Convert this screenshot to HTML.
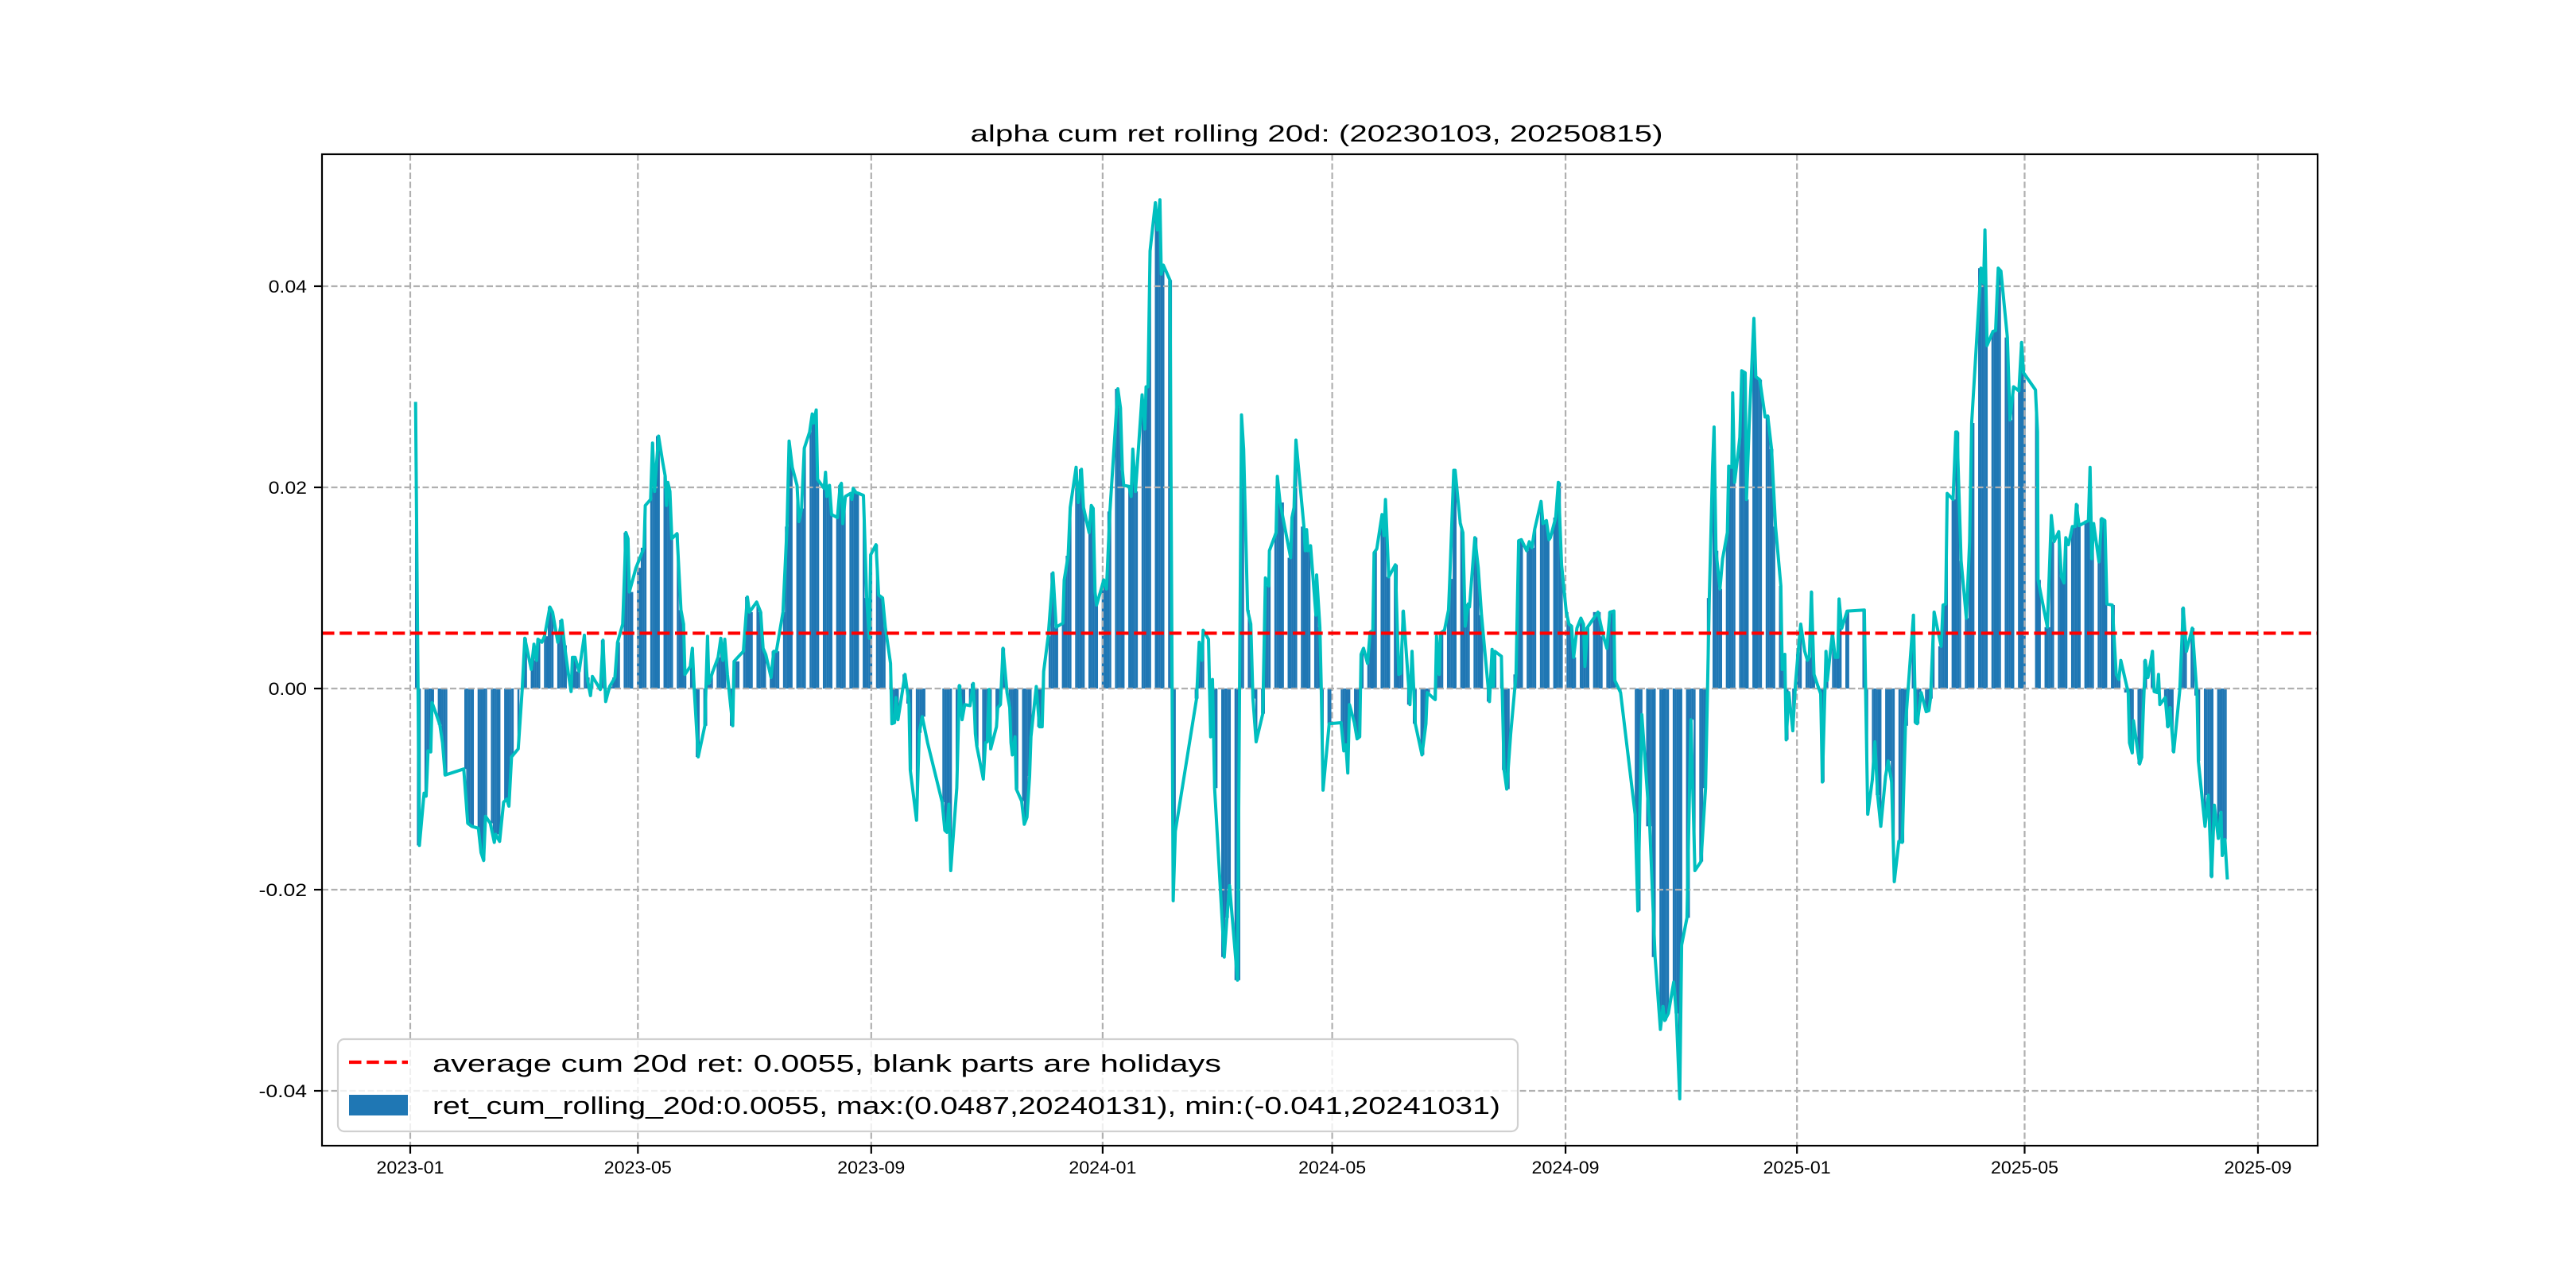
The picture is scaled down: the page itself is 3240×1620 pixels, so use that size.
<!DOCTYPE html>
<html><head><meta charset="utf-8"><title>alpha cum ret rolling 20d</title>
<style>html,body{margin:0;padding:0;background:#fff}svg{display:block}text{font-family:"WenQuanYi Zen Hei","Liberation Sans","Noto Sans CJK SC",sans-serif}</style>
</head><body>
<svg id="chart" width="3240" height="1620" viewBox="0 0 3240 1620" xmlns="http://www.w3.org/2000/svg">
<rect x="0" y="0" width="3240" height="1620" fill="#fff"/>
<text x="1656" y="178" font-size="30" text-anchor="middle" textLength="871" lengthAdjust="spacingAndGlyphs">alpha cum ret rolling 20d: (20230103, 20250815)</text>
<g id="bars"></g>
<g id="grid"></g>
<g id="lineg"></g>
<g id="avg"></g>
<rect x="405" y="194" width="2510" height="1247" fill="none" stroke="#000" stroke-width="2.2"/>
<g id="ticks"></g>
<g>
<rect x="425" y="1307" width="1484" height="116" rx="8" fill="#fff" fill-opacity="0.8" stroke="#d0d0d0" stroke-width="2.2"/>
<line x1="439" y1="1336" x2="513" y2="1336" stroke="#ff0000" stroke-width="4.2" stroke-dasharray="15.5,6.7"/>
<text x="544" y="1348" font-size="31" textLength="992" lengthAdjust="spacingAndGlyphs">average cum 20d ret: 0.0055, blank parts are holidays</text>
<rect x="439" y="1377" width="74" height="26" fill="#1f77b4"/>
<text x="544" y="1401" font-size="31" textLength="1343" lengthAdjust="spacingAndGlyphs">ret_cum_rolling_20d:0.0055, max:(0.0487,20240131), min:(-0.041,20241031)</text>
</g>
</svg>
<script>
// days since 2023-01-01 and cumulative 20d return in per-mille
const lineDays=[2.8,4.8,7.3,8.4,9.4,10.8,11.5,13.6,15.6,17.0,18.4,28.2,30.3,32.4,35.9,37.3,38.7,39.7,42.2,44.3,45.0,47.1,49.2,50.9,52.0,53.4,56.9,59.0,60.4,61.8,63.8,65.2,66.6,67.3,69.4,70.8,73.6,75.0,77.8,79.9,81.3,83.4,84.8,85.5,86.9,89.0,91.8,93.2,95.0,96.0,100.2,101.6,103.0,105.1,107.9,109.3,112.0,113.7,
114.8,115.5,119.0,123.2,123.9,126.7,127.7,128.8,130.9,133.0,134.4,135.1,135.8,136.9,137.9,140.6,142.7,144.1,144.8,147.6,148.7,149.7,151.8,155.3,156.7,157.4,159.5,162.3,163.7,164.8,165.8,167.2,170.0,170.7,175.6,177.7,178.8,182.6,184.7,186.0,187.4,190.2,191.6,193.0,196.5,198.6,199.7,201.4,203.9,204.9,206.3,207.7,210.5,211.9,212.6,214.0,214.7,218.2,218.9,219.6,221.0,222.1,225.2,226.6,227.3,228.0,229.4,232.1,232.8,233.5,234.9,
236.4,238.9,240.6,242.0,242.7,245.5,246.9,249.0,250.4,253.2,253.9,255.3,256.0,257.1,260.8,262.9,263.6,266.9,268.3,269.9,272.7,280.4,281.8,282.9,283.9,284.9,288.1,289.5,290.9,292.3,295.1,296.8,297.9,298.6,302.1,303.2,304.2,305.1,306.0,309.0,309.7,311.1,312.5,314.6,316.0,316.7,317.4,318.8,319.5,322.3,323.7,325.1,326.5,327.2,330.0,331.7,333.1,333.9,336.3,338.8,340.5,344.0,344.7,346.8,347.9,351.0,352.1,353.8,354.9,
357.9,359.0,360.0,361.0,361.8,365.6,367.0,368.8,373.0,374.4,375.4,376.1,378.9,380.0,380.9,382.3,385.8,387.2,387.9,388.9,390.0,392.8,393.9,395.2,395.9,397.0,400.5,402.2,403.3,414.5,415.9,417.3,418.0,420.8,421.9,422.9,424.0,429.1,430.5,431.9,436.1,438.2,439.3,441.4,443.1,444.2,445.9,449.4,450.8,452.6,452.9,456.4,457.1,458.5,464.1,464.8,465.9,466.9,471.1,471.8,472.5,473.2,474.6,477.4,477.8,
479.5,480.2,481.2,484.4,490.7,492.1,493.2,494.2,495.1,497.7,499.1,500.5,501.2,502.5,504.6,506.0,507.4,508.1,509.5,512.3,513.3,514.1,515.8,519.3,521.1,522.1,523.5,524.9,527.0,528.1,529.8,533.3,535.4,536.1,539.6,540.3,541.0,542.4,543.1,545.2,547.3,548.0,550.1,550.8,553.5,554.9,556.1,557.7,558.4,561.2,563.0,564.7,568.9,570.3,571.0,571.7,575.2,576.6,578.0,580.1,582.9,584.3,585.7,588.5,589.9,591.3,592.7,596.1,597.1,598.9,600.3,
601.0,603.8,605.2,606.9,609.4,610.8,612.2,613.3,615.0,617.1,618.5,619.2,620.6,626.1,628.9,630.8,632.4,634.5,635.0,638.0,645.7,647.1,649.2,653.4,656.2,659.0,660.4,661.3,663.2,666.0,667.4,669.2,670.2,673.0,675.1,677.2,680.4,682.8,684.8,686.5,687.3,688.3,690.4,691.8,694.3,695.0,696.7,697.1,698.1,700.2,700.9,701.9,703.7,704.4,705.8,708.3,709.3,711.4,714.2,715.6,717.6,719.7,
722.5,723.2,724.6,725.3,726.7,728.8,730.2,731.6,733.0,735.1,736.5,737.5,738.6,740.0,742.1,743.5,744.4,746.3,747.0,748.3,749.7,751.1,752.5,753.2,754.6,757.4,766.5,767.2,768.3,770.7,772.1,773.5,775.2,777.7,779.1,780.9,782.3,784.7,786.5,788.2,792.4,793.5,794.4,796.5,799.1,800.5,801.4,803.3,804.9,807.0,808.0,809.4,810.2,813.3,814.7,815.4,817.5,820.3,822.0,823.1,828.0,829.4,830.1,831.2,834.3,835.7,837.1,838.5,841.9,843.3,
845.2,848.0,849.4,850.4,856.7,857.8,858.1,863.0,865.1,866.5,869.0,870.4,871.8,872.7,874.1,876.2,877.6,878.3,879.7,884.6,885.5,886.4,887.4,890.2,891.6,893.3,894.4,897.2,899.3,900.7,901.7,905.6,906.3,907.7,908.4,911.6,912.6,914.6,916.0,918.4,919.3,920.9,921.6,922.3,925.1,926.5,927.6,929.6,932.8,934.6,936.3,939.4,941.9,942.6,946.1,947.8,949.6,951.0,953.1,954.5,955.2,956.6,957.9];
const lineVals=[28.5,-15.6,-10.4,-10.7,-6.2,-6.3,-1.4,-2.5,-3.6,-5.4,-8.6,-8.0,-13.4,-13.7,-13.9,-16.3,-17.1,-12.7,-13.4,-15.3,-14.5,-15.2,-11.3,-11.0,-11.7,-6.8,-6.0,-0.1,5.0,3.7,1.9,4.4,2.8,4.9,4.6,5.2,8.1,7.6,4.6,6.8,4.3,1.4,-0.3,3.1,3.1,1.7,5.3,1.1,-0.7,1.2,-0.1,4.8,-1.3,0.2,1.1,4.6,6.4,15.5,
14.9,9.6,12.0,14.0,18.2,18.8,24.4,19.6,25.1,22.6,21.1,18.2,20.5,19.6,14.9,15.4,7.8,6.4,1.4,2.2,4.0,-0.1,-6.8,-3.7,5.2,0.5,1.7,3.1,5.0,2.8,4.9,1.4,-3.7,2.7,3.7,9.1,7.6,8.6,7.6,4.0,3.4,1.1,3.7,3.7,7.6,16.1,24.6,22.0,20.2,16.6,17.9,23.9,25.5,27.3,26.4,27.7,20.8,19.9,21.5,19.1,20.2,17.3,17.0,20.2,20.4,16.4,19.1,19.4,18.8,19.9,19.5,
19.4,19.2,9.0,5.0,13.3,14.3,9.3,9.0,6.1,2.5,-3.5,-3.4,-0.9,-3.1,1.4,-1.5,-8.1,-13.1,-4.4,-2.8,-5.4,-11.3,-14.1,-14.3,-11.5,-18.1,-9.9,0.3,-3.1,-1.6,-1.7,0.5,-4.5,-5.7,-9.0,-5.4,-5.3,-0.1,-6.0,-3.8,-1.9,-1.6,4.0,-0.4,-1.9,-5.4,-6.6,-4.8,-10.0,-11.2,-13.5,-12.8,-8.7,-4.8,0.2,-3.8,-3.8,1.7,5.2,11.5,6.1,6.5,10.8,13.2,18.0,22.0,18.5,21.8,18.0,
15.5,18.2,17.9,9.6,8.3,10.8,9.9,17.6,29.8,27.9,21.7,20.2,20.1,19.1,23.8,19.6,29.2,25.8,30.0,30.0,43.5,48.3,45.6,48.6,41.2,42.1,40.6,-21.1,-14.2,-1.0,4.6,2.8,5.8,4.9,-4.8,0.9,-9.9,-26.7,-22.8,-19.6,-29.0,27.2,23.8,7.8,6.4,-1.0,-5.3,-2.5,11.0,10.2,13.7,15.5,21.1,18.5,13.0,17.0,18.0,24.7,16.1,13.7,15.8,13.7,14.2,7.3,11.3,
6.1,0.2,-10.1,-3.5,-3.4,-6.2,-5.6,-8.4,-1.6,-3.4,-5.0,-4.8,3.4,4.0,2.5,5.6,5.8,13.5,13.9,17.3,15.2,18.8,11.1,12.3,1.4,1.5,7.7,4.0,-1.6,3.7,-3.5,-6.6,-3.5,-0.4,-1.0,-1.1,5.2,1.4,5.5,5.8,7.8,10.9,21.7,21.7,16.4,15.5,6.2,8.4,8.1,15.0,12.0,7.3,-1.3,3.9,0.2,3.7,3.2,-8.1,-10.0,-4.5,1.4,14.7,14.8,13.7,14.6,14.0,15.8,18.6,16.4,16.7,14.8,
15.0,17.0,20.5,12.3,7.6,6.4,6.2,3.1,6.0,7.0,6.4,2.2,6.1,7.6,5.2,4.0,7.6,7.7,0.8,-0.4,-12.5,-22.1,-2.6,-13.7,-26.7,-33.9,-31.6,-33.0,-32.3,-29.2,-32.3,-40.8,-25.5,-22.8,-3.1,-18.1,-17.2,-9.9,9.0,22.0,26.0,13.7,9.9,12.9,15.5,22.1,22.0,29.4,20.5,23.8,25.0,31.6,31.4,18.8,26.1,36.8,31.0,30.7,27.0,27.1,23.8,16.1,
10.2,1.9,3.4,-5.1,-0.4,-4.2,0.5,3.6,6.4,3.7,2.8,3.1,9.6,1.4,0.2,-0.5,-9.3,3.7,0.8,3.1,5.5,3.1,3.1,8.9,6.0,7.7,7.8,-0.1,-12.5,-9.1,-5.3,-10.6,-13.7,-8.7,-7.2,-9.3,-19.2,-15.2,-15.3,-3.7,7.3,-3.4,-3.5,-0.4,-2.3,-2.2,-1.0,7.6,6.1,4.2,8.3,8.4,19.4,18.8,25.5,25.5,12.7,7.0,14.6,26.4,41.8,40.3,45.6,34.1,35.5,35.6,41.8,41.5,34.9,26.7,
30.0,29.6,34.4,31.4,29.7,25.5,10.8,6.1,17.2,14.6,15.6,11.1,10.5,15.0,14.3,16.1,16.1,18.3,16.2,16.7,22.0,12.9,16.4,12.6,16.9,16.7,8.4,8.3,1.4,0.9,2.8,-0.4,-5.4,-6.4,-3.2,-7.5,-6.9,2.8,1.1,3.7,-0.3,-0.4,1.4,-1.6,-0.9,-3.8,-1.9,-6.3,-0.1,8.0,3.7,6.0,-0.7,-7.2,-13.7,-10.6,-18.7,-11.6,-14.9,-12.3,-16.6,-15.0,-19.0];
const averageRet=0.0055;
const yTickVals=[-0.04,-0.02,0.00,0.02,0.04];
const yTickLabels=["-0.04","-0.02","0.00","0.02","0.04"];
const xTickLabels=["2023-01","2023-05","2023-09","2024-01","2024-05","2024-09","2025-01","2025-05","2025-09"];

const NS="http://www.w3.org/2000/svg";
const L=405,R=2915,T=194,B=1441;
const X0=516,PXD=2.386,Y0=866,PXV=12650;
const epoch=Date.UTC(2023,0,1);
function xs(d){return X0+d*PXD;}
function ys(v){return Y0-v*PXV;}
function mk(tag,attrs,parent){const e=document.createElementNS(NS,tag);for(const k in attrs)e.setAttribute(k,attrs[k]);parent.appendChild(e);return e;}

// bars: one per trading weekday, skipping holidays (long gaps in the series)
const barsG=document.getElementById('bars');
const firstD=Math.ceil(lineDays[0]-0.5), lastD=Math.round(lineDays[lineDays.length-1]);
let j=0;
for(let d=firstD; d<=lastD; d++){
  const wd=d%7; if(wd===0||wd===6) continue;
  while(j<lineDays.length-1 && lineDays[j+1]<=d) j++;
  const p=lineDays[j], n=lineDays[Math.min(j+1,lineDays.length-1)];
  if(n-p>5.8 && d>p+0.6 && d<n-0.6) continue;
  const k=(j<lineDays.length-1 && Math.abs(n-d)<Math.abs(d-p))?j+1:j;
  const v=lineVals[k]/1000;
  const y1=ys(Math.max(v,0)), y2=ys(Math.min(v,0));
  const r=mk('rect',{x:(xs(d-0.5)).toFixed(2),y:y1.toFixed(2),width:(PXD+0.1).toFixed(2),height:Math.max(0,y2-y1).toFixed(2),fill:'#1f77b4'},barsG);
  
  
}

// grid
const gridG=document.getElementById('grid');
const tickG=document.getElementById('ticks');
xTickLabels.forEach(lab=>{
  const [yy,mm]=lab.split('-').map(Number);
  const d=(Date.UTC(yy,mm-1,1)-epoch)/86400000;
  const x=xs(d);
  const g=mk('line',{x1:x,y1:T,x2:x,y2:B,stroke:'#b0b0b0','stroke-width':2.2,'stroke-dasharray':'8,3.5'},gridG);
  
  
  const t=mk('line',{x1:x,y1:B,x2:x,y2:B+10,stroke:'#000','stroke-width':2.2},tickG);
  
  
  const tx=mk('text',{x:x,y:1476,'font-size':22,'text-anchor':'middle',textLength:85,lengthAdjust:'spacingAndGlyphs'},tickG);
  tx.textContent=lab;
  
  
});
yTickVals.forEach((v,i)=>{
  const y=ys(v);
  const g=mk('line',{x1:L,y1:y,x2:R,y2:y,stroke:'#b0b0b0','stroke-width':2.2,'stroke-dasharray':'8,3.5'},gridG);
  
  
  const t=mk('line',{x1:L-10,y1:y,x2:L,y2:y,stroke:'#000','stroke-width':2.2},tickG);
  
  
  const lab=yTickLabels[i];
  const tx=mk('text',{x:386,y:y+8,'font-size':22,'text-anchor':'end',textLength:lab.length*12.1,lengthAdjust:'spacingAndGlyphs'},tickG);
  tx.textContent=lab;
  
  
});

// line
const lineG=document.getElementById('lineg');
const pts=lineDays.map((d,i)=>xs(d).toFixed(1)+','+ys(lineVals[i]/1000).toFixed(1)).join(' ');
const pl=mk('polyline',{points:pts,fill:'none',stroke:'#00bfbf','stroke-width':4,'stroke-linejoin':'round'},lineG);



// average line
const avgG=document.getElementById('avg');
const ay=ys(averageRet);
const al=mk('line',{x1:L,y1:ay,x2:R,y2:ay,stroke:'#ff0000','stroke-width':4.2,'stroke-dasharray':'15.5,6.7'},avgG);


</script>
</body></html>
